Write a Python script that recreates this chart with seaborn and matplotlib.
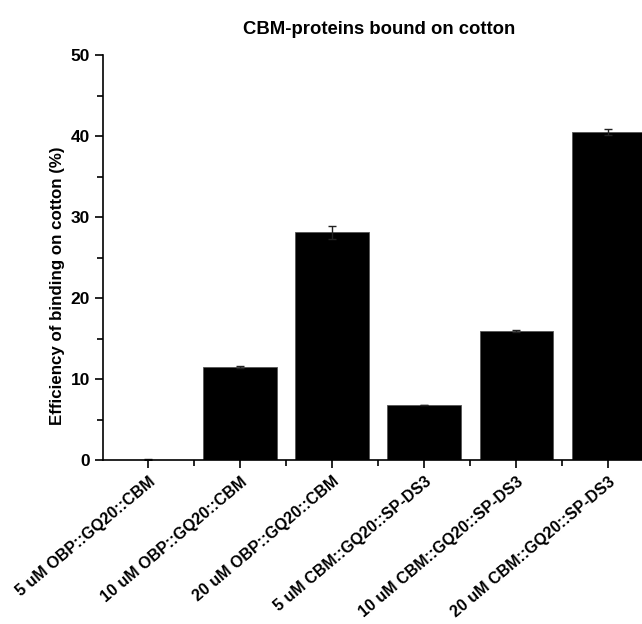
import matplotlib
matplotlib.use('Agg')
import matplotlib.pyplot as plt
from matplotlib.ticker import MultipleLocator, FixedLocator
import seaborn as sns
import pandas as pd

# samples and binding efficiency (%)
samples = ['5 uM OBP::GQ20::CBM', '10 uM OBP::GQ20::CBM', '20 uM OBP::GQ20::CBM',
           '5 uM CBM::GQ20::SP-DS3', '10 uM CBM::GQ20::SP-DS3', '20 uM CBM::GQ20::SP-DS3']
efficiency = [0.05, 11.5, 28.1, 6.8, 15.9, 40.5]
errors = [0.05, 0.1, 0.8, 0.05, 0.15, 0.4]

df = pd.DataFrame({'sample': samples, 'eff': efficiency})

sns.set_style('ticks')
plt.rcParams['font.family'] = ['Liberation Sans', 'DejaVu Sans']
plt.rcParams['font.weight'] = 'bold'
plt.rcParams['text.color'] = 'black'
plt.rcParams['axes.labelcolor'] = 'black'
plt.rcParams['xtick.color'] = 'black'
plt.rcParams['ytick.color'] = 'black'

fig = plt.figure(figsize=(6.42, 6.24), dpi=100)
ax = fig.add_axes([0.1604, 0.2628, 0.859, 0.649])

sns.barplot(data=df, x='sample', y='eff', color='black', edgecolor='#555555',
            linewidth=0.6, width=0.8, errorbar=None, saturation=1, ax=ax)
ax.errorbar(range(len(samples)), efficiency, yerr=errors, fmt='none',
            ecolor='#222222', elinewidth=1, capsize=3, capthick=1)

ax.set_xlim(-0.49, 5.5)
ax.set_ylim(0, 50)
ax.yaxis.set_major_locator(MultipleLocator(10))
ax.yaxis.set_minor_locator(MultipleLocator(5))
ax.xaxis.set_minor_locator(FixedLocator([i + 0.5 for i in range(-1, 6)]))

ax.tick_params(axis='both', which='major', direction='out', length=6, width=1.2,
               labelsize=12.5, color='black', labelcolor='black')
ax.tick_params(axis='x', which='major', labelsize=11.5, pad=4)
ax.tick_params(axis='both', which='minor', direction='out', length=4, width=1.2,
               color='black')
plt.setp(ax.get_xticklabels(), rotation=40, ha='right', rotation_mode='anchor',
         fontweight='bold')
plt.setp(ax.get_yticklabels(), fontweight='bold')

for side in ['left', 'bottom']:
    ax.spines[side].set_linewidth(1.2)
    ax.spines[side].set_color('black')
ax.spines['top'].set_visible(False)
ax.spines['right'].set_visible(False)

ax.set_xlabel('')
ax.set_ylabel('Efficiency of binding on cotton (%)', fontsize=12.2, fontweight='bold')
ax.yaxis.set_label_coords(-0.068, 0.43)
ax.set_title('CBM-proteins bound on cotton', fontsize=13.3, fontweight='bold', pad=15)

fig.savefig('out.png', dpi=100)
